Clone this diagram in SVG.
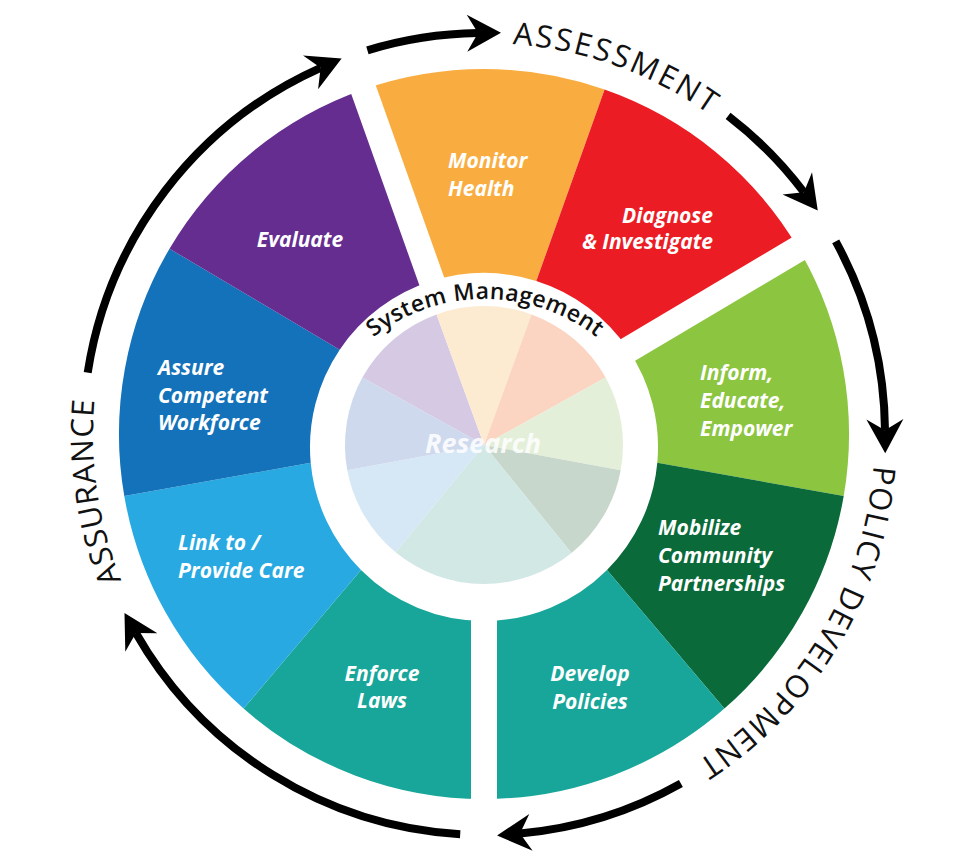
<svg xmlns="http://www.w3.org/2000/svg" width="955" height="865" viewBox="0 0 955 865">
<style>
.seg{stroke:none}
.lbl{font-family:"Open Sans","Liberation Sans",sans-serif;font-weight:700;font-style:italic;font-size:21px;fill:#fff}
.ring{font-family:"Open Sans","Liberation Sans",sans-serif;font-weight:400;font-size:31px;fill:#111}
.gap{stroke:#fff;stroke-width:26;stroke-linecap:butt;fill:none}
.arrow{fill:none;stroke:#000;stroke-width:8;marker-end:url(#ah)}
</style>
<defs>
<marker id="ah" markerUnits="userSpaceOnUse" viewBox="-15 -22 42 44" markerWidth="42" markerHeight="44" refX="0" refY="0" orient="auto">
<path d="M23,0 L-11,-18.5 L0,0 L-11,18.5 Z" fill="#000"/>
</marker>
<path id="p-assess" d="M348.0,67.4 A391,391 0 0 1 821.4,236.4"/>
<path id="p-policy" d="M870.0,371.5 A391,391 0 0 1 612.6,803.3"/>
<path id="p-assure" d="M224.9,726.8 A391,391 0 0 1 150.6,229.7"/>
<path id="p-sys" d="M345.6,364.0 A182,182 0 0 1 624.4,364.0"/>
</defs>
<rect width="955" height="865" fill="#fff"/>

<g id="monitor-health">
<path class="seg" fill="#F9AD40" d="M363.4,89.5 A365,365 0 0 1 604.6,89.5 L536.3,281.1 A174,174 0 0 0 431.7,281.1 Z"/>
<text class="lbl" x="448" y="168">Monitor</text>
<text class="lbl" x="448" y="196">Health</text>
</g>
<g id="diagnose-investigate">
<path class="seg" fill="#EC1C24" d="M604.6,89.5 A365,365 0 0 1 798.5,248.7 L628.3,349.7 A174,174 0 0 0 536.3,281.1 Z"/>
<text class="lbl" x="713" y="223" text-anchor="end">Diagnose</text>
<text class="lbl" x="713" y="249" text-anchor="end">&amp; Investigate</text>
</g>
<g id="inform-educate-empower">
<path class="seg" fill="#8CC540" d="M798.5,248.7 A365,365 0 0 1 843.7,496.1 L657.3,462.8 A174,174 0 0 0 628.3,349.7 Z"/>
<text class="lbl" x="700" y="380">Inform,</text>
<text class="lbl" x="700" y="408">Educate,</text>
<text class="lbl" x="700" y="436">Empower</text>
</g>
<g id="mobilize-community-partnerships">
<path class="seg" fill="#0A6A3A" d="M843.7,496.1 A365,365 0 0 1 724.4,708.6 L607.0,570.0 A174,174 0 0 0 657.3,462.8 Z"/>
<text class="lbl" x="658" y="535">Mobilize</text>
<text class="lbl" x="658" y="563">Community</text>
<text class="lbl" x="658" y="591">Partnerships</text>
</g>
<g id="develop-policies">
<path class="seg" fill="#18A69A" d="M724.4,708.6 A365,365 0 0 1 484,799 L484,621 A174,174 0 0 0 607.0,570.0 Z"/>
<text class="lbl" x="590" y="681" text-anchor="middle">Develop</text>
<text class="lbl" x="590" y="709" text-anchor="middle">Policies</text>
</g>
<g id="enforce-laws">
<path class="seg" fill="#18A69A" d="M484,799 A365,365 0 0 1 243.6,708.6 L361.0,570.0 A174,174 0 0 0 484,621 Z"/>
<text class="lbl" x="382" y="681" text-anchor="middle">Enforce</text>
<text class="lbl" x="382" y="708" text-anchor="middle">Laws</text>
</g>
<g id="link-provide-care">
<path class="seg" fill="#28A9E1" d="M243.6,708.6 A365,365 0 0 1 124.3,496.1 L310.7,462.8 A174,174 0 0 0 361.0,570.0 Z"/>
<text class="lbl" x="178" y="550">Link to /</text>
<text class="lbl" x="178" y="578">Provide Care</text>
</g>
<g id="assure-competent-workforce">
<path class="seg" fill="#1372B9" d="M124.3,496.1 A365,365 0 0 1 169.5,248.7 L339.7,349.7 A174,174 0 0 0 310.7,462.8 Z"/>
<text class="lbl" x="158" y="375">Assure</text>
<text class="lbl" x="158" y="403">Competent</text>
<text class="lbl" x="158" y="430">Workforce</text>
</g>
<g id="evaluate">
<path class="seg" fill="#652D90" d="M169.5,248.7 A365,365 0 0 1 363.4,89.5 L431.7,281.1 A174,174 0 0 0 339.7,349.7 Z"/>
<text class="lbl" x="300" y="247" text-anchor="middle">Evaluate</text>
</g>

<g id="gaps">
<line class="gap" x1="436.7" y1="295.2" x2="358.4" y2="75.4"/>
<line class="gap" x1="615.4" y1="357.4" x2="811.4" y2="241.0"/>
<line class="gap" x1="484" y1="606" x2="484" y2="815"/>
</g>

<g id="research">
<path fill="#D5C9E3" d="M484,445 L362.4,377.6 A139,139 0 0 1 436.5,314.4 Z"/>
<path fill="#FDEBD1" d="M484,445 L436.5,314.4 A139,139 0 0 1 531.5,314.4 Z"/>
<path fill="#FBD4C2" d="M484,445 L531.5,314.4 A139,139 0 0 1 605.6,377.6 Z"/>
<path fill="#E4EFD9" d="M484,445 L605.6,377.6 A139,139 0 0 1 620.7,470.3 Z"/>
<path fill="#C8D7CB" d="M484,445 L620.7,470.3 A139,139 0 0 1 571.5,553.0 Z"/>
<path fill="#D2E8E5" d="M484,445 L571.5,553.0 A139,139 0 0 1 395.6,552.3 Z"/>
<path fill="#D6E8F6" d="M484,445 L395.6,552.3 A139,139 0 0 1 347.3,470.3 Z"/>
<path fill="#CED9EE" d="M484,445 L347.3,470.3 A139,139 0 0 1 362.4,377.6 Z"/>
<text x="483" y="453" text-anchor="middle" font-family="Open Sans, Liberation Sans, sans-serif" font-weight="700" font-style="italic" font-size="27" fill="#fff" fill-opacity="0.85">Research</text>
</g>

<g id="system-management">
<text font-family="Open Sans, Liberation Sans, sans-serif" font-weight="600" font-size="23" fill="#111"><textPath href="#p-sys" startOffset="50%" text-anchor="middle" textLength="240" lengthAdjust="spacing">System Management</textPath></text>
</g>

<g id="connectors">
<path class="arrow" d="M367.4,50.3 A401,401 0 0 1 478.0,33.0"/>
<path class="arrow" d="M87.7,372.6 A401,401 0 0 1 320.6,67.8"/>
<path class="arrow" d="M728.1,115.8 A401,401 0 0 1 803.9,192.2"/>
<path class="arrow" d="M835.7,241.4 A401,401 0 0 1 885.0,430.2"/>
<path class="arrow" d="M680.9,783.4 A401,401 0 0 1 520.0,833.4"/>
<path class="arrow" d="M460.2,834.3 A401,401 0 0 1 135.9,633.0"/>
</g>

<g id="phase-labels">
<text class="ring"><textPath href="#p-assess" startOffset="50%" text-anchor="middle" textLength="211" lengthAdjust="spacing">ASSESSMENT</textPath></text>
<text class="ring"><textPath href="#p-policy" startOffset="50%" text-anchor="middle" textLength="357" lengthAdjust="spacing">POLICY DEVELOPMENT</textPath></text>
<text class="ring"><textPath href="#p-assure" startOffset="50%" text-anchor="middle" textLength="184" lengthAdjust="spacing">ASSURANCE</textPath></text>
</g>
</svg>
